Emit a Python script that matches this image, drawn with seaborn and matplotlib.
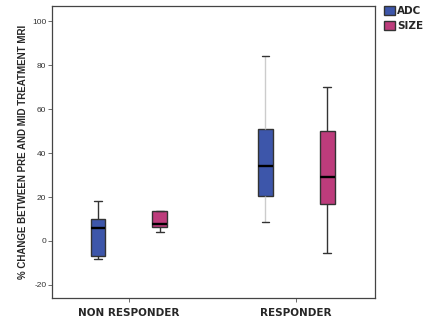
import numpy as np
import pandas as pd
import matplotlib
matplotlib.use("Agg")
import matplotlib.pyplot as plt
import matplotlib.patches as mpatches
import seaborn as sns

# five-number summaries: min, q1, median, q3, max
groups = ["NON RESPONDER", "RESPONDER"]
measures = ["ADC", "SIZE"]
adc_nonresp = [-8.2, -6.7, 5.8, 10.0, 18.3]
size_nonresp = [4.0, 6.5, 7.9, 13.8, 13.8]
adc_resp = [8.5, 20.5, 34.0, 51.2, 84.4]
size_resp = [-5.3, 16.7, 29.1, 50.1, 70.1]
yticks = [-20, 0, 20, 40, 60, 80, 100]

c_adc = "#3D56AA"
c_size = "#BD3C7C"

rows = []
for grp, meas, vals in [
    ("NON RESPONDER", "ADC", adc_nonresp),
    ("NON RESPONDER", "SIZE", size_nonresp),
    ("RESPONDER", "ADC", adc_resp),
    ("RESPONDER", "SIZE", size_resp),
]:
    for v in vals:
        rows.append({"group": grp, "measure": meas, "change": v})
df = pd.DataFrame(rows)

sns.set_style("white")
plt.rcParams["font.family"] = ["Liberation Sans", "DejaVu Sans"]

fig = plt.figure(figsize=(4.38, 3.2), dpi=100)
ax = fig.add_axes([0.1187, 0.06875, 0.737, 0.9125])

sns.boxplot(
    data=df, x="group", y="change", hue="measure",
    order=groups, hue_order=measures,
    palette={"ADC": c_adc, "SIZE": c_size}, saturation=1,
    whis=(0, 100), width=0.74, gap=0.76, dodge=True,
    linecolor="#333333", linewidth=1.0, legend=False, ax=ax,
    medianprops={"color": "black", "linewidth": 1.7},
)

# light whisker on the responder ADC box, as in the original
for ln in ax.lines:
    xd = np.asarray(ln.get_xdata(), dtype=float)
    yd = np.asarray(ln.get_ydata(), dtype=float)
    if len(xd) == 2 and abs(xd[0] - xd[1]) < 1e-9 and abs(yd[0] - yd[1]) > 1e-9:
        if abs(xd[0] - (1 - 0.185)) < 0.05:
            ln.set_color("#cccccc")

ax.set_xlim(-0.46, 1.47)
ax.set_ylim(-26, 107)
ax.set_yticks(yticks)
ax.set_yticklabels([str(t) for t in yticks], fontsize=6, color="#333333")
ax.tick_params(axis="y", length=3, width=0.6, color="#555555", left=True, pad=1)
ax.tick_params(axis="x", length=3, width=0.6, color="#555555", bottom=True, pad=4)
ax.set_xticks([0, 1])
ax.set_xticklabels(groups, fontsize=7.5, fontweight="bold",
                   family=["DejaVu Sans"])
ax.set_xlabel("")
ax.set_ylabel("% CHANGE BETWEEN PRE AND MID TREATMENT MRI", fontsize=7,
              fontweight="bold", labelpad=3)
for sp in ax.spines.values():
    sp.set_color("#444444")
    sp.set_linewidth(0.9)

h_adc = mpatches.Patch(facecolor=c_adc, edgecolor="#333333", label="ADC")
h_size = mpatches.Patch(facecolor=c_size, edgecolor="#333333", label="SIZE")
fig.legend(handles=[h_adc, h_size], loc="upper left",
           bbox_to_anchor=(0.868, 0.995), frameon=False,
           prop={"weight": "bold", "size": 7.5, "family": "DejaVu Sans"},
           handlelength=1.0, handleheight=1.0, handletextpad=0.2,
           labelspacing=0.45, borderaxespad=0)

fig.savefig("out.png", dpi=100)
